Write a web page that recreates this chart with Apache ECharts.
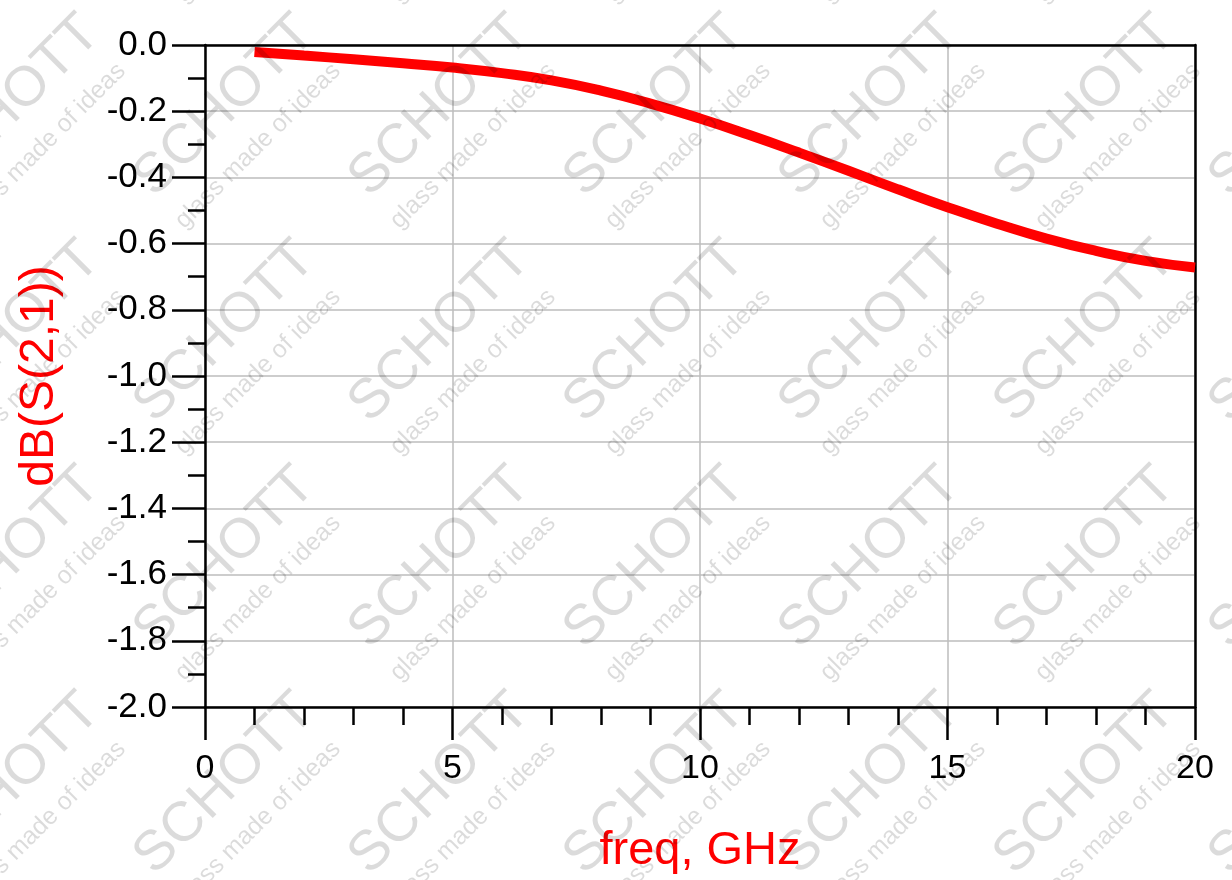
<!DOCTYPE html>
<html>
<head>
<meta charset="utf-8">
<title>dB(S(2,1))</title>
<script src="https://cdn.jsdelivr.net/npm/echarts@6/dist/echarts.min.js"></script>
<style>
  html, body { margin: 0; padding: 0; background: #fff; }
  #chart { width: 1232px; height: 880px; }
</style>
</head>
<body>
<div id="chart"></div>
<script>
// values
var freqGHz = [1, 2, 3, 4, 5, 6, 7, 8, 9, 10, 11, 12, 13, 14, 15, 16, 17, 18, 19, 20];
var s21dB = [-0.021, -0.032, -0.043, -0.055, -0.068, -0.085, -0.107, -0.138, -0.177, -0.222,
             -0.272, -0.325, -0.380, -0.436, -0.490, -0.540, -0.585, -0.622, -0.652, -0.672];
var xTicks = [0, 5, 10, 15, 20];
var yTicks = [0, -0.2, -0.4, -0.6, -0.8, -1.0, -1.2, -1.4, -1.6, -1.8, -2.0];

// watermark tiles (SCHOTT logo text), centres in px
var wmCols = [10, 225, 440, 655, 870, 1085, 1300];
var wmRows = [-120, 106, 332, 558, 784, 1010];

var pairs = freqGHz.map(function (f, i) { return [f, s21dB[i]]; });

var font = '"Liberation Sans", Arial, Helvetica, sans-serif';
var ink = '#000';

var watermark = [];
wmRows.forEach(function (cy) {
	wmCols.forEach(function (cx) {
		watermark.push({
			type: 'text', x: cx, y: cy, rotation: Math.PI / 4, z: 100, silent: true,
			style: { text: 'SCHOTT', fontFamily: font, fontWeight: 'lighter', fontSize: 56,
				fill: 'rgba(0,0,0,0.14)', align: 'center', verticalAlign: 'middle' }
		});
		watermark.push({
			type: 'text', x: cx + 33, y: cy + 40, rotation: Math.PI / 4, z: 100, silent: true,
			style: { text: 'glass made of ideas', fontFamily: font, fontSize: 25,
				fill: 'rgba(0,0,0,0.14)', align: 'center', verticalAlign: 'middle' }
		});
	});
});

var chart = echarts.init(document.getElementById('chart'));
var option = {
	backgroundColor: '#fff',
	animation: false,
	grid: { left: 205, right: 37, top: 45, bottom: 171 },
	xAxis: [{
		type: 'value',
		min: xTicks[0], max: xTicks[xTicks.length - 1], interval: 5,
		name: 'freq, GHz', nameLocation: 'middle', nameGap: 121,
		nameTextStyle: { color: '#ff0000', fontFamily: font, fontSize: 47 },
		axisLine: { onZero: false, lineStyle: { color: ink, width: 2.5 } },
		axisTick: { show: true, inside: false, length: 33, lineStyle: { color: ink, width: 2.5 } },
		minorTick: { show: true, splitNumber: 5, length: 18, lineStyle: { color: ink, width: 2.5 } },
		axisLabel: { color: ink, fontFamily: font, fontSize: 34, margin: 45 },
		splitLine: { show: true, lineStyle: { color: '#bcbcbc', width: 1.5 } }
	}, {
		type: 'value', position: 'top',
		min: xTicks[0], max: xTicks[xTicks.length - 1],
		axisLine: { show: true, onZero: false, lineStyle: { color: ink, width: 2.5 } },
		axisTick: { show: false }, axisLabel: { show: false }, splitLine: { show: false }
	}],
	yAxis: [{
		type: 'value',
		min: yTicks[yTicks.length - 1], max: yTicks[0], interval: 0.2,
		name: 'dB(S(2,1))', nameLocation: 'middle', nameGap: 141,
		nameTextStyle: { color: '#ff0000', fontFamily: font, fontSize: 48 },
		axisLine: { show: true, onZero: false, lineStyle: { color: ink, width: 2.5 } },
		axisTick: { show: true, inside: false, length: 33, lineStyle: { color: ink, width: 2.5 } },
		minorTick: { show: true, splitNumber: 2, length: 17, lineStyle: { color: ink, width: 2.5 } },
		axisLabel: {
			color: ink, fontFamily: font, fontSize: 35, margin: 38,
			formatter: function (v) { return v.toFixed(1); }
		},
		splitLine: { show: true, lineStyle: { color: '#bcbcbc', width: 1.5 } }
	}, {
		type: 'value', position: 'right',
		min: yTicks[yTicks.length - 1], max: yTicks[0],
		axisLine: { show: true, onZero: false, lineStyle: { color: ink, width: 2.5 } },
		axisTick: { show: false }, axisLabel: { show: false }, splitLine: { show: false }
	}],
	series: [{
		type: 'line',
		data: pairs,
		smooth: true,
		showSymbol: false,
		lineStyle: { color: '#ff0000', width: 10, cap: 'butt' },
		z: 5
	}],
	graphic: watermark
};
chart.setOption(option);
</script>
</body>
</html>
